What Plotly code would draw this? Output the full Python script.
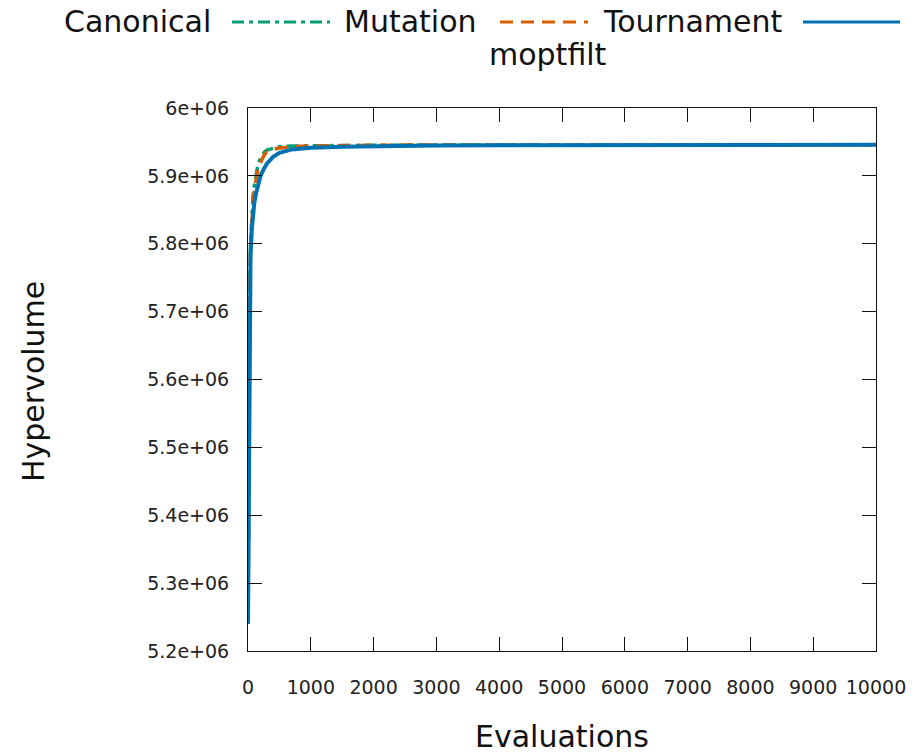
import plotly.graph_objects as go

# ---- data ----
canonical_x = [0, 10, 20, 30, 40, 60, 80, 100, 120, 150, 180, 220, 260, 300, 400, 500, 700, 1000, 1500, 2000, 3000, 5000, 7000, 10000]
canonical_y = [5.245e6, 5.50e6, 5.66e6, 5.75e6, 5.80e6, 5.845e6, 5.87e6, 5.885e6, 5.90e6, 5.912e6, 5.922e6, 5.930e6,
               5.935e6, 5.938e6, 5.941e6, 5.943e6, 5.944e6, 5.9445e6, 5.945e6, 5.9452e6, 5.9455e6, 5.9457e6, 5.9458e6, 5.9459e6]

mutation_x = [0, 10, 20, 30, 40, 60, 80, 100, 120, 150, 180, 220, 260, 300, 400, 500, 700, 1000, 1500, 2000, 3000, 5000, 7000, 10000]
mutation_y = [5.240e6, 5.48e6, 5.64e6, 5.74e6, 5.79e6, 5.835e6, 5.86e6, 5.878e6, 5.893e6, 5.906e6, 5.916e6, 5.925e6,
              5.931e6, 5.935e6, 5.939e6, 5.941e6, 5.943e6, 5.944e6, 5.9448e6, 5.9452e6, 5.9455e6, 5.9457e6, 5.9458e6, 5.9459e6]

tournament_x = [0, 10, 20, 30, 40, 60, 80, 100, 130, 160, 200, 250, 300, 400, 500, 700, 1000, 1500, 2000, 3000, 4000, 6000, 8000, 10000]
tournament_y = [5.240e6, 5.45e6, 5.62e6, 5.72e6, 5.78e6, 5.82e6, 5.845e6, 5.86e6, 5.875e6, 5.888e6, 5.900e6, 5.910e6,
                5.918e6, 5.928e6, 5.934e6, 5.939e6, 5.9415e6, 5.943e6, 5.944e6, 5.9448e6, 5.945e6, 5.9453e6, 5.9455e6, 5.9457e6]

x_ticks = [0, 1000, 2000, 3000, 4000, 5000, 6000, 7000, 8000, 9000, 10000]
y_ticks = [5.2e6, 5.3e6, 5.4e6, 5.5e6, 5.6e6, 5.7e6, 5.8e6, 5.9e6, 6.0e6]
y_tick_text = ["5.2e+06", "5.3e+06", "5.4e+06", "5.5e+06", "5.6e+06", "5.7e+06", "5.8e+06", "5.9e+06", "6e+06"]

series_names = ["Canonical", "Mutation", "Tournament"]
colors = ["#009E73", "#D55E00", "#0072B2"]
dashes = ["12px,5px,4px,5px", "13px,8px", "solid"]

FONT = "DejaVu Sans"
W, H = 924, 755
L, R, T, B = 248, 48, 108, 104
PW, PH = W - L - R, H - T - B


def px(xp):
    return (xp - L) / PW


def py(yp):
    return (H - B - yp) / PH


fig = go.Figure()
for xs, ys, name, c, d, w in [
    (canonical_x, canonical_y, series_names[0], colors[0], dashes[0], 3.5),
    (mutation_x, mutation_y, series_names[1], colors[1], dashes[1], 3.5),
    (tournament_x, tournament_y, series_names[2], colors[2], dashes[2], 4),
]:
    fig.add_trace(go.Scatter(x=xs, y=ys, mode="lines", name=name,
                             line=dict(color=c, dash=d, width=w), showlegend=False))

axis_common = dict(showline=True, linecolor="#111", linewidth=1, mirror="ticks",
                   ticks="inside", ticklen=14, tickcolor="#111", tickwidth=1,
                   showgrid=False, zeroline=False,
                   tickfont=dict(family=FONT, size=19, color="#222"))

fig.update_xaxes(range=[0, 10000], tickvals=x_ticks, ticktext=[str(v) for v in x_ticks],
                 ticklabelstandoff=19, **axis_common)
fig.update_yaxes(range=[5.2e6, 6.0e6], tickvals=y_ticks, ticktext=y_tick_text,
                 ticklabelstandoff=14, **axis_common)

annotations = [
    dict(text="Hypervolume", x=px(33), y=py(382), textangle=-90, font=dict(size=30)),
    dict(text="Evaluations", x=px(562), y=py(736), font=dict(size=30)),
    dict(text="Canonical", x=px(213), y=py(22), xanchor="right", font=dict(size=30)),
    dict(text="Mutation", x=px(479), y=py(22), xanchor="right", font=dict(size=30)),
    dict(text="Tournament", x=px(784), y=py(22), xanchor="right", font=dict(size=30)),
    dict(text="moptfilt", x=px(609), y=py(55), xanchor="right", font=dict(size=30)),
]
for a in annotations:
    a.update(xref="paper", yref="paper", showarrow=False)
    if "xanchor" not in a:
        a["xanchor"] = "center"
    a["yanchor"] = "middle"
    a["font"].update(family=FONT, color="#111")

sample_pos = [(232, 330), (500, 588), (803, 900)]
shapes = []
for (x0, x1), c, d in zip(sample_pos, colors, dashes):
    shapes.append(dict(type="line", xref="paper", yref="paper", x0=px(x0), x1=px(x1),
                       y0=py(22), y1=py(22), line=dict(color=c, width=3, dash=d)))

fig.update_layout(width=W, height=H, margin=dict(l=L, r=R, t=T, b=B, autoexpand=False),
                  paper_bgcolor="white", plot_bgcolor="white",
                  annotations=annotations, shapes=shapes, showlegend=False,
                  font=dict(family=FONT))

fig.write_html("out.html")
